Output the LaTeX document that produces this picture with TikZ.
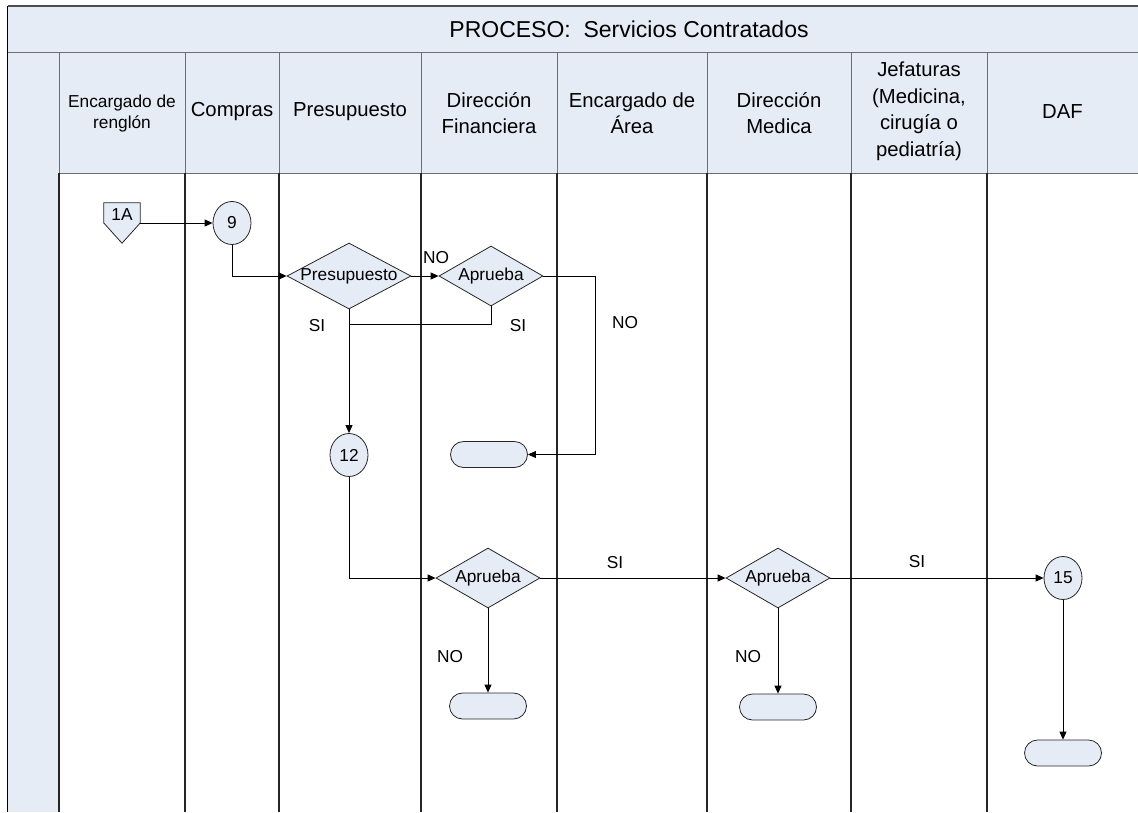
\documentclass[tikz,border=0pt]{standalone}
\usepackage{fontspec}
\setmainfont{Liberation Sans}
\usetikzlibrary{shapes.geometric,arrows.meta}
\definecolor{laneblue}{RGB}{230,236,246}
\definecolor{gridgray}{RGB}{110,110,110}
\begin{document}
\begin{tikzpicture}[x=1pt,y=-1pt,
  conn/.style={draw=black,line width=0.9pt},
  arr/.style={conn,-{Triangle[length=8pt,width=7pt]}},
  hdr/.style={font=\fontsize{20.3}{26.5}\selectfont,align=center,inner sep=0pt},
  hdrsmall/.style={font=\fontsize{17.3}{21}\selectfont,align=center,inner sep=0pt},
  lbl/.style={font=\fontsize{17.3}{20}\selectfont,inner sep=0pt},
  shapeline/.style={draw=black!85,line width=0.8pt,fill=laneblue},
  decision/.style={shape=diamond,shapeline,inner sep=0pt,minimum width=104pt,minimum height=60pt},
  conncircle/.style={shape=ellipse,shapeline,inner sep=0pt,minimum width=38pt,minimum height=43pt,font=\fontsize{17.3}{20}\selectfont},
  terminal/.style={shape=rectangle,shapeline,rounded corners=13pt,minimum width=77pt,minimum height=26pt},
  hgrid/.style={draw=gridgray,line width=0.8pt},
  lane/.style={draw=black!85,line width=1.3pt}]
\useasboundingbox (0,0) rectangle (1138,812);

% pool background: title band, left band and lane headers
\fill[laneblue] (7.5,6) rectangle (1138,52);
\fill[laneblue] (7.5,52) rectangle (59,812);
\fill[laneblue] (59,52) rectangle (1138,173);

% header grid
\draw[hgrid] (7.5,52) -- (1138,52);
\draw[hgrid] (59,173) -- (1138,173);
\foreach \cx in {59,185,279,421,557,707,851,987}
  \draw[hgrid] (\cx,52) -- (\cx,173);

% lane separators
\foreach \cx in {59,185,279,421,557,707,851,987}
  \draw[lane] (\cx,173) -- (\cx,812);

% outer frame
\draw[draw=black!70,line width=1.2pt] (7.5,6) -- (1138,6);
\draw[draw=black,line width=1.3pt] (7.5,6) -- (7.5,812);

% title and lane names
\node[font=\fontsize{23}{27}\selectfont,inner sep=0pt] (title) at (629,29) {PROCESO:\ \ Servicios Contratados};
\node[hdrsmall] (h1) at (122,113.5) {Encargado de\\renglón};
\node[hdr] (h2) at (232,112) {Compras};
\node[hdr] (h3) at (350,112) {Presupuesto};
\node[hdr] (h4) at (489,113) {Dirección\\Financiera};
\node[hdr] (h5) at (632,113) {Encargado de\\Área};
\node[hdr] (h6) at (779,113) {Dirección\\Medica};
\node[hdr] (h7) at (919,111.5) {Jefaturas\\(Medicina,\\cirugía o\\pediatría)};
\node[hdr] (h8) at (1062.5,112) {DAF};

% off-page connector: pentagon outline, then its reference text
\node[minimum width=36pt,minimum height=40pt,inner sep=0pt] (n1A) at (122,223) {};
\draw[shapeline] (n1A.north west) -- (n1A.north east) -- (n1A.east)
  -- (n1A.south) -- (n1A.west) -- cycle;
\node[lbl] (n1Atext) at (122,215) {1A};

% flow shapes
\node[conncircle] (n9) at (232,223) {9};
\node[conncircle] (n12) at (349,455) {12};
\node[conncircle] (n15) at (1063,578) {15};
\node[decision,minimum width=124pt,minimum height=66pt,
      label={[lbl]center:Presupuesto}] (dPres) at (349,276) {};
\node[decision,label={[lbl]center:Aprueba}] (dA1) at (491,276) {};
\node[decision,label={[lbl]center:Aprueba}] (dA2) at (488,578) {};
\node[decision,label={[lbl]center:Aprueba}] (dA3) at (778,578) {};
\node[terminal] (t1) at (489,454.5) {};
\node[terminal] (t2) at (488,706) {};
\node[terminal] (t3) at (778,707) {};
\node[terminal] (t4) at (1063,753) {};
\coordinate (jn) at (349,324);

% connectors
\draw[arr] (n1A.east) -- (n9.west);
\draw[arr] (n9.south) |- (dPres.west);
\draw[arr] (dPres.east) -- (dA1.west);
\draw[arr] (dA1.east) -- ++(52,0) |- (t1.east);
\draw[conn] (dA1.south) |- (jn);
\draw[arr] (dPres.south) -- (n12.north);
\draw[arr] (n12.south) |- (dA2.west);
\draw[arr] (dA2.east) -- (dA3.west);
\draw[arr] (dA3.east) -- (n15.west);
\draw[arr] (dA2.south) -- (t2.north);
\draw[arr] (dA3.south) -- (t3.north);
\draw[arr] (n15.south) -- (t4.north);

% branch labels
\node[lbl] (l1) at (436,258) {NO};
\node[lbl] (l2) at (317,326) {SI};
\node[lbl] (l3) at (518,326) {SI};
\node[lbl] (l4) at (625,323) {NO};
\node[lbl] (l5) at (615,563) {SI};
\node[lbl] (l6) at (917,562) {SI};
\node[lbl] (l7) at (450,657) {NO};
\node[lbl] (l8) at (748,657) {NO};
\end{tikzpicture}
\end{document}
